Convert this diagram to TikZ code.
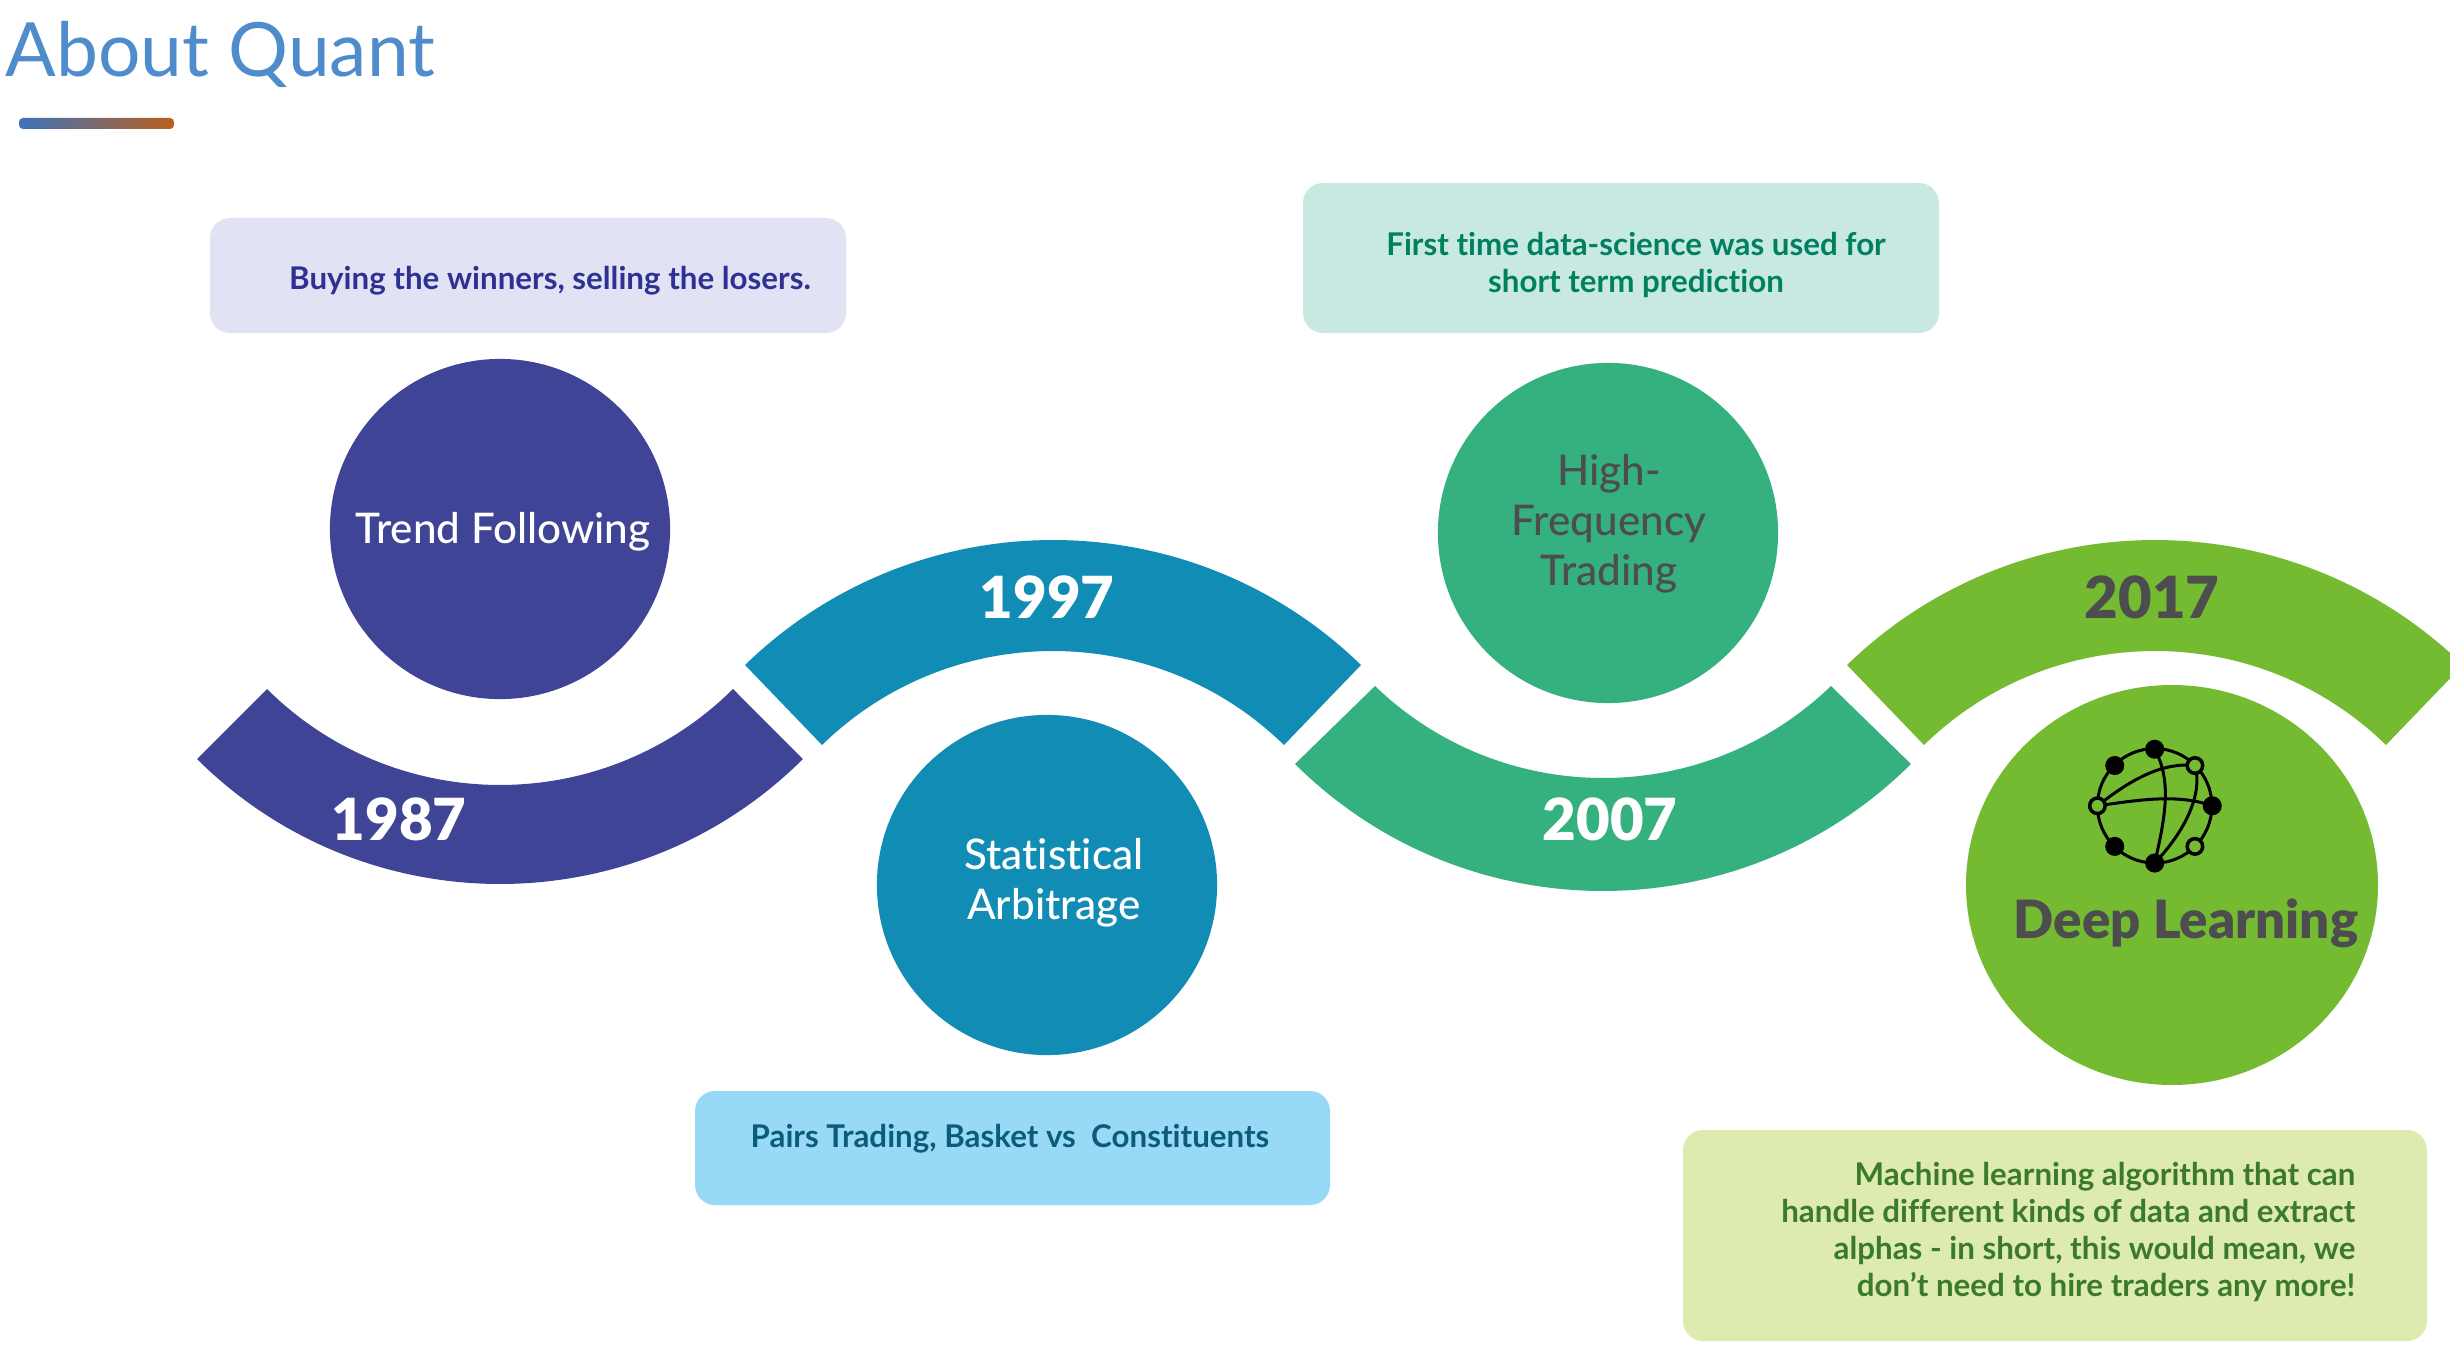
\documentclass[tikz,border=0pt]{standalone}
\usepackage{fontspec}
\setmainfont[Ligatures=NoCommon,Contextuals=NoAlternate]{Lato}
\newfontfamily\heavyfont{Lato Black}
\newfontfamily\mediumfont[Ligatures=NoCommon,Contextuals=NoAlternate]{Lato Medium}
\definecolor{cA}{HTML}{3F4496}
\definecolor{cB}{HTML}{118CB5}
\definecolor{cC}{HTML}{35B07F}
\definecolor{cD}{HTML}{74BB32}
\definecolor{bA}{HTML}{E1E2F3}
\definecolor{bB}{HTML}{C7E9E1}
\definecolor{bC}{HTML}{98DAF5}
\definecolor{bD}{HTML}{DDEBB0}
\definecolor{tA}{HTML}{2E3192}
\definecolor{tB}{HTML}{00805F}
\definecolor{tC}{HTML}{0B5C7A}
\definecolor{tD}{HTML}{3B7A2A}
\definecolor{titleblue}{HTML}{4F8CCB}
\definecolor{greytext}{HTML}{4D4D4F}
\definecolor{barleft}{HTML}{3F72BA}
\definecolor{barright}{HTML}{B8601F}
\newcommand\downband[8]{%
 \fill[#1] ({#2-#4},{1350-#3}) arc[start angle={270-2*atan(#5/#4)},end angle={270+2*atan(#5/#4)},radius={#4/#5*#4/2+#5/2}]
 -- ({#2+#7},{1350-#6}) arc[start angle={270+2*atan(#8/#7)},end angle={270-2*atan(#8/#7)},radius={#7/#8*#7/2+#8/2}] -- cycle;}
\newcommand\upband[8]{%
 \fill[#1] ({#2+#4},{1350-#3}) arc[start angle={90-2*atan(#5/#4)},end angle={90+2*atan(#5/#4)},radius={#4/#5*#4/2+#5/2}]
 -- ({#2-#7},{1350-#6}) arc[start angle={90+2*atan(#8/#7)},end angle={90-2*atan(#8/#7)},radius={#7/#8*#7/2+#8/2}] -- cycle;}
\tikzset{
 infobox/.style={rounded corners=0.2cm},
 circ/.style={circle,minimum size=3.4cm,inner sep=0pt,outer sep=0pt},
 yeartext/.style={font=\fontsize{16.5}{18}\selectfont\heavyfont,inner sep=0pt},
 circtext/.style={align=center,inner sep=0pt,font=\fontsize{12}{14.2}\selectfont\mediumfont},
 boxtext/.style={inner sep=0pt,font=\fontsize{8.9}{10.6}\selectfont\bfseries},
 opendot/.style={circle,draw=black,line width=0.35mm,fill=cD,minimum size=0.155cm,inner sep=0pt},
 fulldot/.style={circle,draw=black,line width=0.35mm,fill=black,minimum size=0.155cm,inner sep=0pt},
 globe/.style={line width=0.3mm,black},
}
\begin{document}
\begin{tikzpicture}[x=0.01cm,y=0.01cm]
\useasboundingbox (0,0) rectangle (2450,1350);
\clip (0,0) rectangle (2450,1350);
\fill[white] (0,0) rectangle (2450,1350);
% title
\node[anchor=base west,inner sep=0pt,text=titleblue,font=\fontsize{21.3}{24}\selectfont] (title) at (5,1350-76) {About Quant};
\shade[left color=barleft,right color=barright,rounded corners=0.04cm] (19,1350-129) rectangle (174,1350-118);
% bands
\downband{cA}{500}{759}{303}{125}{689}{233}{96}
\upband{cB}{1053}{665}{308}{125}{745}{231}{94}
\downband{cC}{1603}{764}{308}{127}{686}{228}{92}
\upband{cD}{2155}{665}{308}{125}{745}{231}{94}
% boxes
\fill[bA,infobox] (210,1350-333) rectangle (846,1350-218);
\fill[bB,infobox] (1303,1350-333) rectangle (1939,1350-183);
\fill[bC,infobox] (695,1350-1205) rectangle (1330,1350-1091);
\fill[bD,infobox] (1683,1350-1341) rectangle (2427,1350-1130);
% circles
\node[circ,fill=cA] (trend) at (500,1350-529) {};
\node[circ,fill=cB] (stat) at (1047,1350-885) {};
\node[circ,fill=cC] (hft) at (1608,1350-533) {};
\fill[cD] (2172,1350-885) ellipse [x radius=206,y radius=200];
% years
\node[yeartext,text=white] (y87) at (399,1350-819) {1987};
\node[yeartext,text=white] (y97) at (1047,1350-597) {1997};
\node[yeartext,text=white] (y07) at (1610,1350-819) {2007};
\node[yeartext,text=greytext] (y17) at (2152,1350-597) {2017};
% circle labels
\node[circtext,text=white] (ttrend) at (503,1350-532) {Trend Following};
\node[circtext,text=white] (tstat) at (1054,1350-883) {Statistical\\Arbitrage};
\node[circtext,text=greytext] (thft) at (1609,1350-524) {High-\\Frequency\\Trading};
\node[inner sep=0pt,text=greytext,font=\fontsize{15}{17}\selectfont\heavyfont] (tdeep) at (2186,1350-923) {Deep Learning};
% box labels
\node[boxtext,text=tA] (ta) at (550,1350-281) {Buying the winners, selling the losers.};
\node[boxtext,text=tB,align=center] (tb) at (1636,1350-265) {First time data-science was used for\\short term prediction};
\node[boxtext,text=tC] (tc) at (1010,1350-1139) {Pairs Trading, Basket vs\ \ Constituents};
\node[boxtext,text=tD,align=right,anchor=east] (td) at (2356,1350-1232) {Machine learning algorithm that can\\handle different kinds of data and extract\\alphas - in short, this would mean, we\\don’t need to hire traders any more!};
% globe icon
\begin{scope}[shift={(1950,1350-680)},x=0.003333cm,y=-0.003333cm]
\draw[globe] (615,378) circle [radius=172];
\coordinate (g0) at (443,378);
\coordinate (g2) at (736,257);
\coordinate (g3) at (788,378);
\coordinate (g1) at (615,208);
\coordinate (g5) at (615,550);
\draw[globe] (g0) .. controls (530,310) and (630,245) .. (g2);
\draw[globe] (g0) .. controls (560,362) and (680,340) .. (g3);
\draw[globe] (g1) .. controls (665,300) and (650,400) .. (g5);
\draw[globe] (g2) .. controls (760,340) and (710,450) .. (g5);
\node[fulldot] (d1) at (495,257) {};
\node[fulldot] (d2) at (g1) {};
\node[opendot] (d3) at (g2) {};
\node[fulldot] (d4) at (g3) {};
\node[opendot] (d5) at (736,500) {};
\node[fulldot] (d6) at (g5) {};
\node[fulldot] (d7) at (495,500) {};
\node[opendot] (d8) at (g0) {};
\end{scope}
\end{tikzpicture}
\end{document}
